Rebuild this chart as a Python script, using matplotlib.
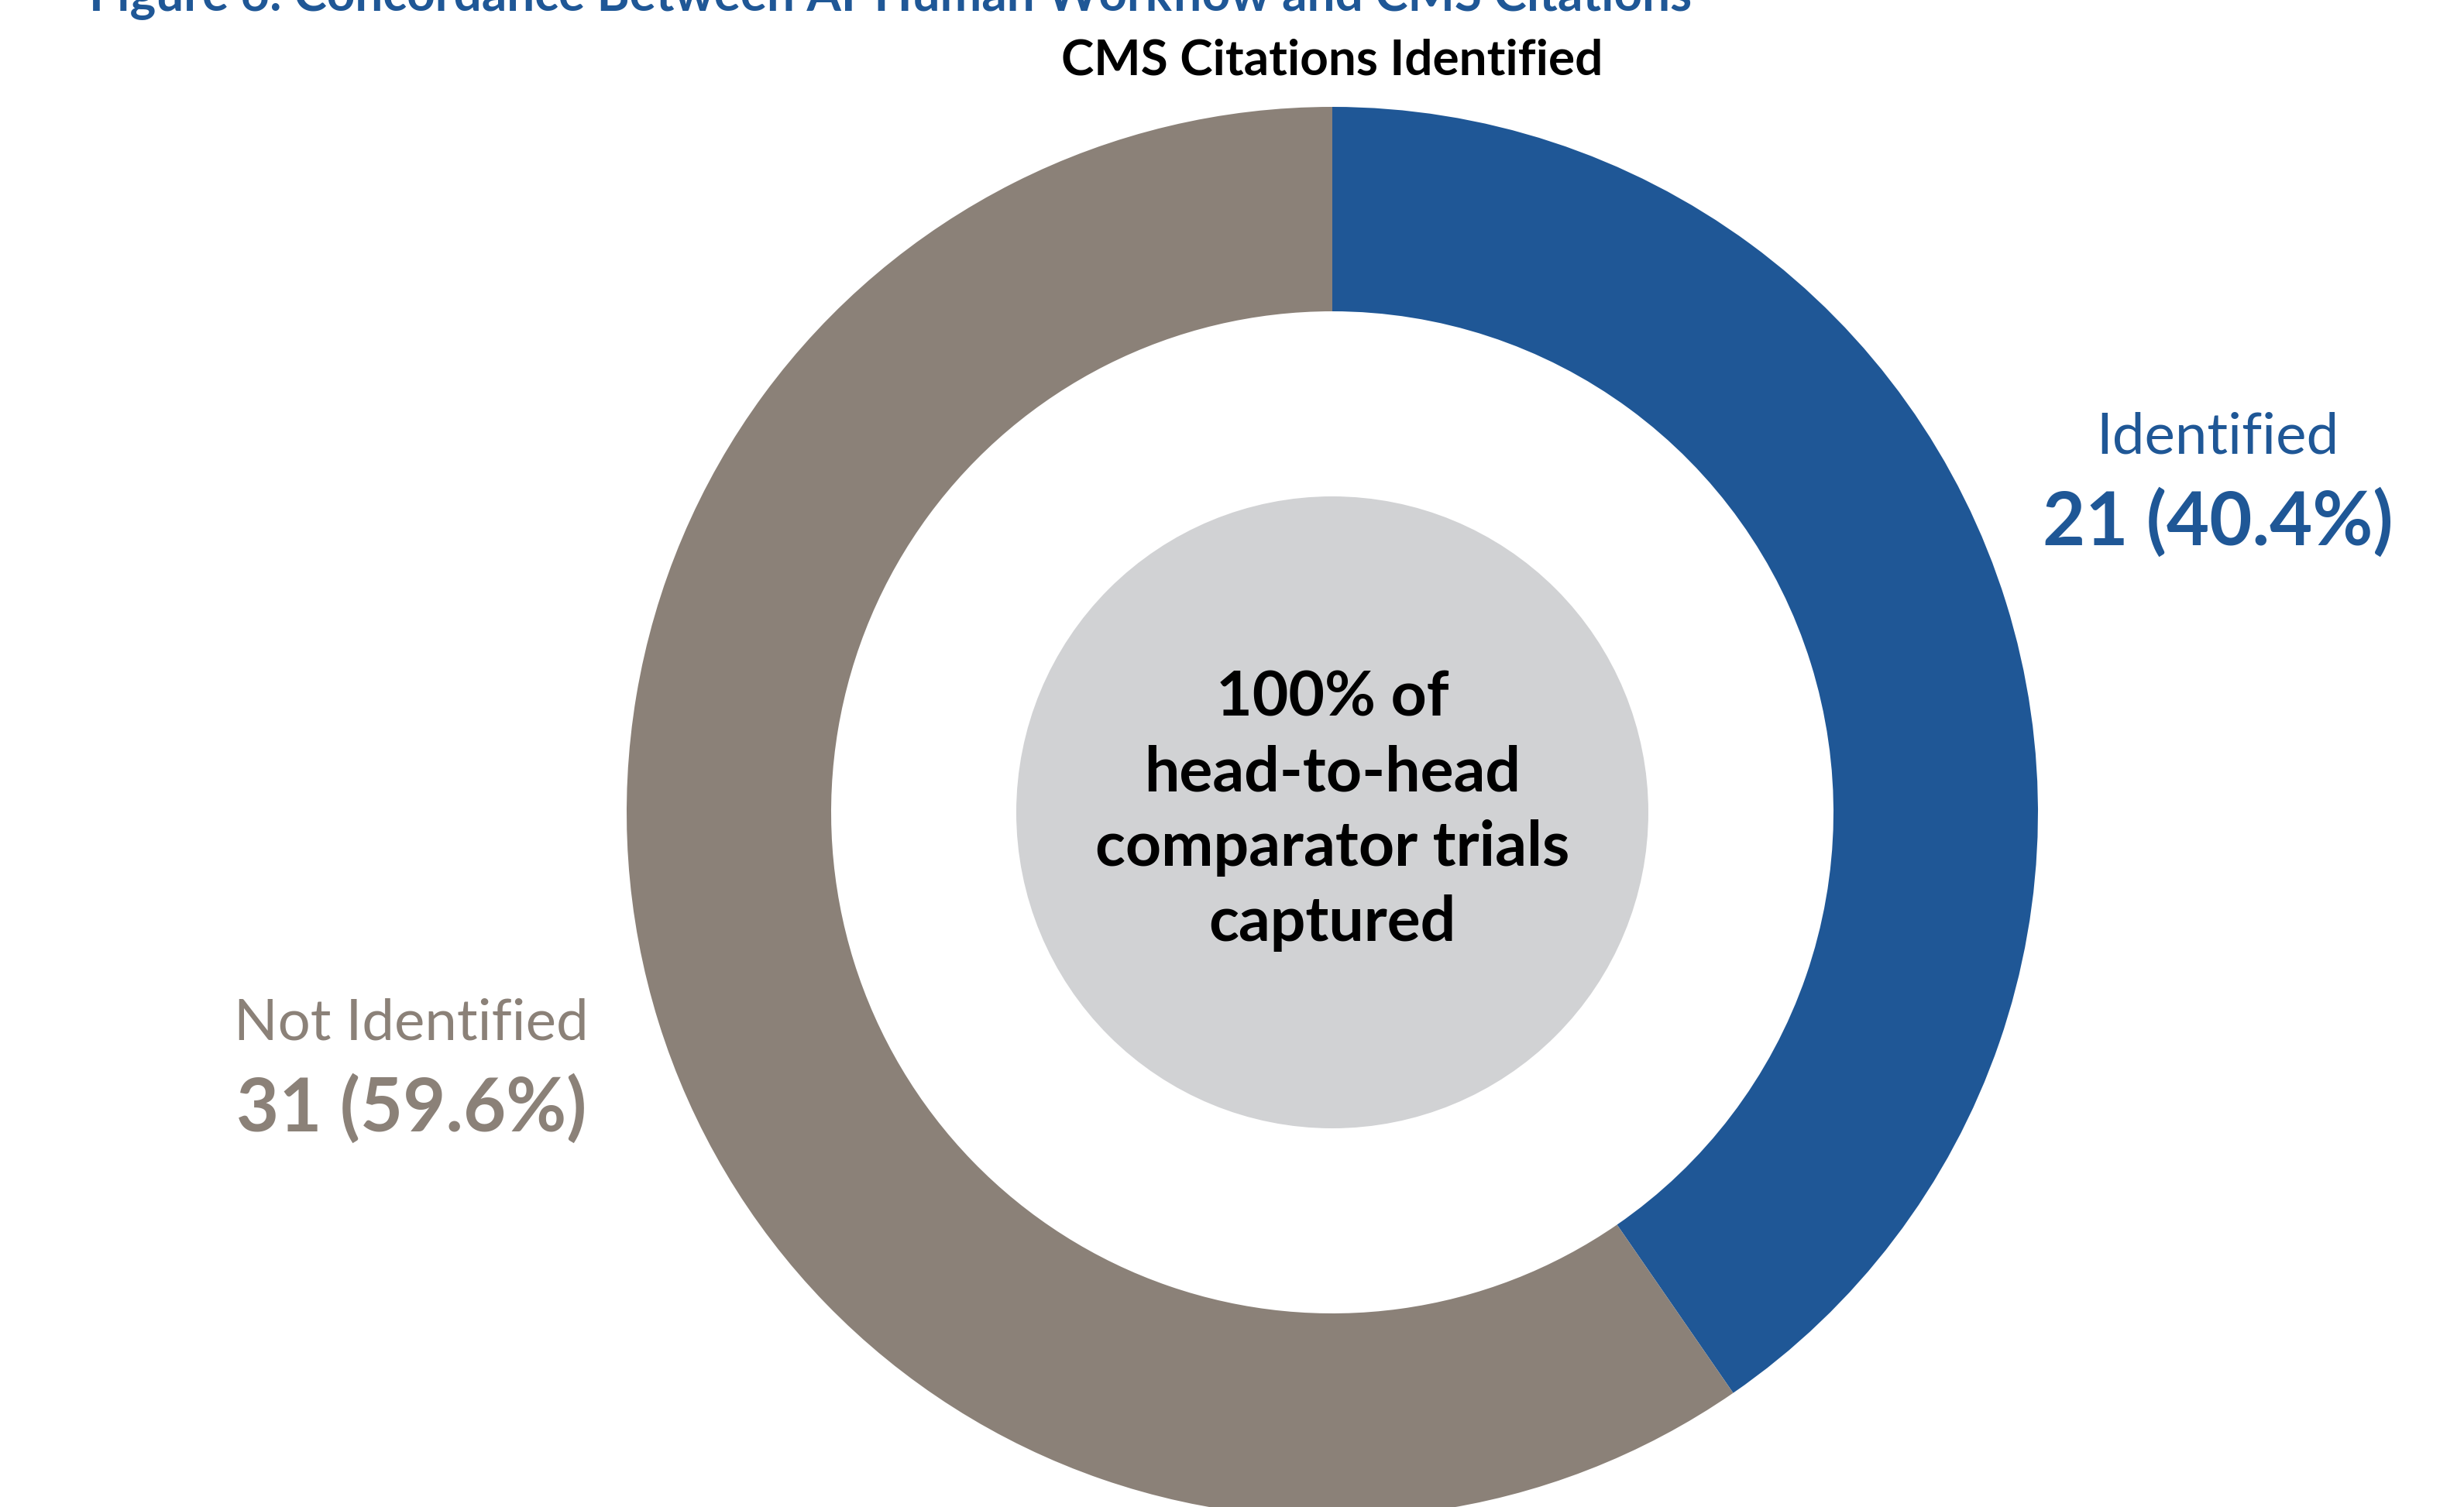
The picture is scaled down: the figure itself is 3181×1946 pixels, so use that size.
import matplotlib
matplotlib.use("Agg")
import matplotlib.pyplot as plt
from matplotlib.patches import Circle

categories = ["Identified", "Not Identified"]
counts = [21, 31]
colors = ["#1F5796", "#8B8178"]
title = "Figure 6: Concordance Between AI-Human Workflow and CMS Citations"
subtitle = "CMS Citations Identified"
center_text = "100% of\nhead-to-head\ncomparator trials\ncaptured"

W, H = 3181, 1946
DPI = 200
plt.rcParams['font.family'] = ['Lato', 'DejaVu Sans']

fig = plt.figure(figsize=(W / DPI, H / DPI), dpi=DPI)
ax = fig.add_axes([0, 0, 1, 1])

cx, cy = 1720, H - 1049
R = 911
ring_w = 264

ax.pie(counts, colors=colors, startangle=90, counterclock=False,
       center=(cx, cy), radius=R,
       wedgeprops=dict(width=ring_w, edgecolor='none', linewidth=0))
ax.add_patch(Circle((cx, cy), 408, facecolor="#D1D2D4", edgecolor='none', zorder=3))

ax.set_xlim(0, W)
ax.set_ylim(0, H)
ax.set_aspect('equal')
ax.axis('off')

total = sum(counts)
label_pos = [(2863, H - 565), (531, H - 1322)]
for cat, n, col, (lx, ly) in zip(categories, counts, colors, label_pos):
    ax.text(lx, ly, cat, color=col, fontsize=26.8, ha='center', va='center')
    ax.text(lx, ly - 110, f"{n} ({n / total * 100:.1f}%)", color=col,
            fontsize=34.3, fontweight='bold', ha='center', va='center')

ax.text(cx, cy + 2, center_text, color='black', fontsize=29, fontweight='bold',
        ha='center', va='center', linespacing=1.38, zorder=4)

ax.text(cx, H - 78, subtitle, color='black', fontsize=23, fontweight='bold',
        ha='center', va='center')
ax.text(1150, H - 13, title, color='#1F5796', fontsize=23, fontweight='bold',
        ha='center', va='baseline')

fig.savefig("out.png", dpi=DPI)
